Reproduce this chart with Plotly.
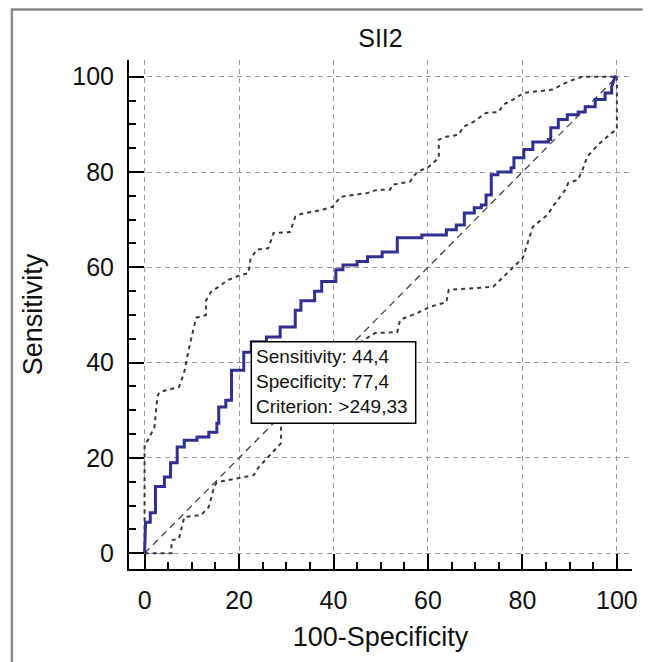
import base64
import plotly.graph_objects as go

# ROC curve (100-Specificity, Sensitivity)
roc_x = [0, 0.2, 1.2, 1.2, 2.3, 2.3, 4.2, 4.2, 5.5, 5.5, 6.9, 6.9, 8.4, 8.4, 11.1, 11.1, 13.6, 13.6,
         15.3, 15.3, 15.7, 15.7, 17.2, 17.2, 18.4, 18.4, 21.0, 21.0, 22.6, 22.6, 25.8, 25.8, 28.7, 28.7,
         31.9, 31.9, 33.1, 33.1, 36.0, 36.0, 37.5, 37.5, 40.5, 40.5, 42.0, 42.0, 45.0, 45.0, 47.2, 47.2,
         50.3, 50.3, 53.5, 53.5, 58.7, 58.7, 63.9, 63.9, 66.0, 66.0, 67.7, 67.7, 69.8, 69.8, 71.3, 71.3,
         72.3, 72.3, 73.4, 73.4, 74.8, 74.8, 77.6, 77.6, 78.2, 78.2, 80.3, 80.3, 82.2, 82.2, 85.5, 85.5,
         86.0, 86.0, 87.6, 87.6, 89.5, 89.5, 91.8, 91.8, 93.3, 93.3, 95.4, 95.4, 97.5, 97.5, 98.9, 98.9,
         99.6, 100]
roc_y = [0, 6.5, 6.5, 8.5, 8.5, 14.0, 14.0, 16.0, 16.0, 19.0, 19.0, 22.3, 22.3, 23.7, 23.7, 24.4, 24.4, 25.4,
         25.4, 27.3, 27.3, 30.7, 30.7, 32.1, 32.1, 38.4, 38.4, 42.2, 42.2, 44.4, 44.4, 45.4, 45.4, 47.5,
         47.5, 51.0, 51.0, 53.0, 53.0, 55.0, 55.0, 57.0, 57.0, 59.5, 59.5, 60.5, 60.5, 61.2, 61.2, 62.2,
         62.2, 63.2, 63.2, 66.2, 66.2, 66.8, 66.8, 67.9, 67.9, 68.9, 68.9, 71.4, 71.4, 72.5, 72.5, 73.1,
         73.1, 75.2, 75.2, 79.4, 79.4, 80.0, 80.0, 80.9, 80.9, 83.0, 83.0, 84.7, 84.7, 86.3, 86.3, 86.8,
         86.8, 89.3, 89.3, 91.0, 91.0, 92.0, 92.0, 92.6, 92.6, 93.7, 93.7, 95.2, 95.2, 96.6, 96.6, 97.9,
         100.0, 100.0]

# Upper confidence bound
upper_x = [0, 0, 0.7, 2.1, 2.7, 3.1, 7.3, 8.4, 9.4, 10.9, 13.0, 13.0, 14.0, 15.7, 17.8, 19.9, 22.0, 22.4,
           23.7, 26.2, 27.3, 30.8, 31.9, 33.1, 37.3, 39.8, 41.5, 47.2, 49.3, 52.0, 52.4, 56.2, 57.7, 60.2,
           62.3, 62.3, 63.9, 66.5, 67.5, 69.6, 72.3, 75.0, 75.9, 78.0, 80.3, 86.4, 89.7, 92.7, 100]
upper_y = [0, 23.0, 23.7, 26.5, 32.8, 33.8, 34.9, 38.0, 43.0, 49.4, 50.0, 53.0, 54.8, 56.0, 57.4, 58.2, 58.8,
           61.6, 63.7, 64.0, 67.2, 67.4, 70.6, 71.2, 72.0, 72.7, 74.8, 75.6, 76.3, 76.3, 77.3, 78.0, 80.0,
           81.1, 83.0, 86.8, 87.4, 87.8, 89.5, 90.5, 92.4, 92.6, 94.1, 95.2, 96.6, 97.3, 99.0, 100.0, 100.0]

# Lower confidence bound
lower_x = [0, 5.7, 5.7, 7.3, 8.4, 11.9, 13.6, 14.7, 15.3, 19.9, 23.1, 24.1, 26.2, 28.9, 28.9, 33.0, 38.0,
           43.0, 46.0, 48.8, 53.5, 54.1, 57.7, 60.4, 63.9, 64.4, 73.8, 78.0, 80.1, 82.2, 85.3, 86.4, 89.1,
           89.7, 91.8, 92.9, 93.7, 96.0, 98.9, 100, 100]
lower_y = [0, 0, 2.7, 3.1, 7.6, 8.0, 9.7, 13.9, 14.9, 15.8, 16.4, 18.0, 20.2, 23.1, 27.3, 31.0, 36.0,
           41.0, 44.5, 46.2, 46.4, 49.0, 50.4, 51.7, 52.7, 55.3, 55.9, 60.1, 62.0, 68.5, 71.0, 72.7, 76.3,
           77.7, 78.4, 80.9, 83.2, 85.7, 88.2, 88.9, 100]

ref_x = [0, 100]
ref_y = [0, 100]

tick_vals = [0, 20, 40, 60, 80, 100]
tick_text = ["0", "20", "40", "60", "80", "100"]

title_text = "SII2"
x_title = "100-Specificity"
y_title = "Sensitivity"
crit_lines = ["Sensitivity: 44,4", "Specificity: 77,4", "Criterion: >249,33"]
crit_point = (22.6, 44.4)
box_corner = (57.4, 27.3)

FONT = "Liberation Sans, Arial, sans-serif"
W, H = 649, 662
ML, MR, MT, MB = 129, 11, 60, 93
PW, PH = W - ML - MR, H - MT - MB

fig = go.Figure()
fig.add_trace(go.Scatter(x=ref_x, y=ref_y, mode="lines",
                         line=dict(color="#4a4437", width=1.3, dash="7px,5px"),
                         hoverinfo="skip", showlegend=False))
fig.add_trace(go.Scatter(x=upper_x, y=upper_y, mode="lines",
                         line=dict(color="#3a3a3a", width=2, dash="4px,4px"),
                         showlegend=False))
fig.add_trace(go.Scatter(x=lower_x, y=lower_y, mode="lines",
                         line=dict(color="#3a3a3a", width=2, dash="4px,4px"),
                         showlegend=False))
fig.add_trace(go.Scatter(x=roc_x, y=roc_y, mode="lines",
                         line=dict(color="#2e3192", width=3),
                         showlegend=False))

axis_common = dict(
    tickvals=tick_vals, ticktext=tick_text,
    showline=True, linecolor="black", linewidth=2, mirror=False,
    ticks="inside", ticklen=15, tickwidth=2, tickcolor="black",
    showgrid=True, gridcolor="#9a9a9a", gridwidth=1, griddash="5px,4px",
    zeroline=False,
    tickfont=dict(family=FONT, size=25, color="#111111"),
    minor=dict(dtick=5, tick0=0, ticks="inside", ticklen=7, tickwidth=1.5,
               tickcolor="black", showgrid=False),
    ticklabelstandoff=8,
)

fig.update_xaxes(range=[-3.3, 103.2], **axis_common,
                 title=dict(text=x_title, font=dict(family=FONT, size=27, color="#111111"), standoff=14))
fig.update_yaxes(range=[-3.3, 103.5], **axis_common,
                 title=dict(text=y_title, font=dict(family=FONT, size=27, color="#111111"), standoff=22))

# criterion box
fig.add_shape(type="rect", xref="x", yref="y",
              x0=crit_point[0], y0=box_corner[1], x1=box_corner[0], y1=crit_point[1],
              line=dict(color="black", width=1.5), fillcolor="white", layer="above")
for i, t in enumerate(crit_lines):
    fig.add_annotation(x=crit_point[0], y=crit_point[1], xref="x", yref="y",
                       text=t, showarrow=False, xanchor="left", yanchor="top",
                       xshift=3, yshift=-2 - 25 * i,
                       font=dict(family=FONT, size=19, color="#111111"))

# outer frame (left and top edges) as an overlay image covering the page
frame_svg = (f'<svg xmlns="http://www.w3.org/2000/svg" width="{W}" height="{H}" viewBox="0 0 {W} {H}">'
             f'<path d="M10.5 {H} V9.5 H{W}" stroke="#8a8a8a" stroke-width="2.5" fill="none"/></svg>')
frame_src = "data:image/svg+xml;base64," + base64.b64encode(frame_svg.encode()).decode()
fig.add_layout_image(source=frame_src, xref="paper", yref="paper",
                     x=-ML / PW, y=1 + MT / PH, sizex=W / PW, sizey=H / PH,
                     xanchor="left", yanchor="top", sizing="stretch", layer="above")

fig.update_layout(
    width=W, height=H,
    margin=dict(l=ML, r=MR, t=MT, b=MB),
    paper_bgcolor="white", plot_bgcolor="white",
    title=dict(text=title_text, x=0.5, xref="paper", y=1 - 38 / H, yanchor="middle",
               font=dict(family=FONT, size=25, color="#111111")),
    showlegend=False,
)

fig.write_html("out.html", config={"displayModeBar": False})
